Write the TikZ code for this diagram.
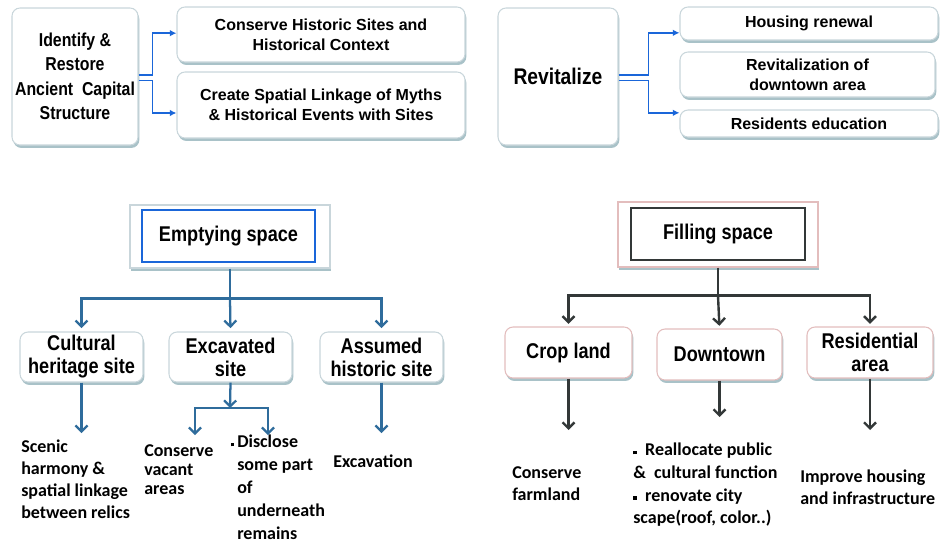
\documentclass[tikz,border=0pt]{standalone}
\usepackage{fontspec}
\setmainfont{Carlito}
\newfontfamily\krfont[FakeStretch=0.85]{Liberation Sans}
\newfontfamily\boxfont{Liberation Sans}
\usetikzlibrary{shadows,arrows.meta}
\definecolor{topblue}{HTML}{1A66D9}
\definecolor{steel}{HTML}{2F6C9C}
\definecolor{darkline}{HTML}{333838}
\definecolor{rimgray}{HTML}{C9D6DB}
\definecolor{rimpink}{HTML}{E3BDBD}
\definecolor{shadowc}{HTML}{A9C2C8}
\newcommand{\sqbul}{\raisebox{1.2pt}{\rule{2.8pt}{2.8pt}}}

\begin{document}
\begin{tikzpicture}[x=0.75pt,y=-0.75pt,
  card/.style={draw=rimgray,fill=white,rounded corners=6pt,line width=0.8pt,
    drop shadow={shadow xshift=1pt,shadow yshift=-2.2pt,fill=shadowc,opacity=1},
    align=center,inner sep=0pt},
  bigtxt/.style={font=\krfont\bfseries\fontsize{14}{18.4}\selectfont},
  toptxt/.style={font=\boxfont\bfseries\fontsize{12}{15}\selectfont},
  kidtxt/.style={font=\krfont\bfseries\fontsize{16}{17.25}\selectfont},
  leaf/.style={font=\bfseries\fontsize{13.5}{16.5}\selectfont,align=left,inner sep=0pt,anchor=north west},
  toparr/.style={draw=topblue,line width=1.2pt,-{Latex[length=5pt,width=5pt]}},
  blline/.style={draw=steel,line width=1.7pt},
  blarr/.style={blline,-{Straight Barb[length=4.5pt,width=9pt]}},
  dkline/.style={draw=darkline,line width=1.8pt},
  dkarr/.style={dkline,-{Straight Barb[length=4.5pt,width=9pt]}}]
  \useasboundingbox (0,0) rectangle (948,553);

  \node[card,minimum width=94.5pt,minimum height=102.75pt,bigtxt] (ident) at (75,76.5)
    {Identify \&\\Restore\\Ancient\ \ Capital\\Structure};
  \node[card,minimum width=216pt,minimum height=41.25pt,toptxt] (cons) at (321,34.5)
    {Conserve Historic Sites and\\Historical Context};
  \node[card,minimum width=216pt,minimum height=49.5pt,toptxt] (link) at (321,105)
    {Create Spatial Linkage of Myths\\\& Historical Events with Sites};
  \draw[toparr] ([yshift=1pt]ident.east) -- ++(14,0) |- ([yshift=1pt]cons.west);
  \draw[toparr] ([yshift=-3pt]ident.east) -- ++(14,0) |- ([yshift=-6pt]link.west);

  \node[card,minimum width=90pt,minimum height=102.75pt,
    font=\krfont\bfseries\fontsize{17}{20}\selectfont] (revit) at (558,76.5) {Revitalize};
  \node[card,minimum width=193.5pt,minimum height=24.75pt,toptxt] (house) at (809,23.5)
    {Housing renewal};
  \node[card,minimum width=191.25pt,minimum height=33.75pt,toptxt] (downa) at (807.5,74.5)
    {Revitalization of\\downtown area};
  \node[card,minimum width=193.5pt,minimum height=20.25pt,toptxt] (educ) at (809,123.5)
    {Residents education};
  \draw[toparr] ([yshift=1pt]revit.east) -- ++(30,0) |- ([yshift=-7pt]house.west);
  \draw[toparr] ([yshift=-3pt]revit.east) -- ++(30,0) |- ([yshift=8pt]educ.west);

  \node[card,rounded corners=0pt,minimum width=150pt,minimum height=47.25pt] (emptyo) at (230,236.5) {};
  \node[draw=topblue,line width=1.6pt,fill=white,minimum width=129.75pt,minimum height=39pt,kidtxt]
    (empty) at (228.5,236) {Emptying space};
  \node[card,minimum width=92.25pt,minimum height=37.5pt,kidtxt] (cult) at (81.5,357)
    {Cultural\\heritage site};
  \node[card,minimum width=92.25pt,minimum height=37.5pt,kidtxt] (exc) at (230.5,357)
    {Excavated\\site};
  \node[card,minimum width=92.25pt,minimum height=37.5pt,kidtxt] (assum) at (381.5,357)
    {Assumed\\historic site};
  \draw[blline] (emptyo.south) -- ++(0,30) coordinate (ej);
  \draw[blarr,shorten >=2.5pt] (ej) -| (cult.north);
  \draw[blarr,shorten >=2.5pt] (ej) -- (exc.north);
  \draw[blarr,shorten >=2.5pt] (ej) -| (assum.north);

  \node[leaf] (scen) at (21,440) {Scenic\\harmony \&\\spatial linkage\\between relics};
  \node[leaf,font=\bfseries\fontsize{13.5}{14.25}\selectfont] (vac) at (144,444)
    {Conserve\\vacant\\areas};
  \node[leaf,font=\bfseries\fontsize{13.5}{17.25}\selectfont] (disc) at (237,435)
    {\llap{\sqbul\,}Disclose\\some part\\of\\underneath\\remains};
  \node[leaf] (exca) at (333,455) {Excavation};
  \coordinate (cultin) at (76,433);
  \coordinate (xj) at (230,408);
  \coordinate (vacin) at (195,435);
  \coordinate (discin) at (268,435);
  \coordinate (asin) at (382,433);
  \draw[blarr] (cult.south) -- (cult.south |- cultin);
  \draw[blarr] (exc.south) -- (xj);
  \draw[blarr] (xj) -| (vacin);
  \draw[blarr] (xj) -| (discin);
  \draw[blarr] (assum.south) -- (assum.south |- asin);

  \node[card,rounded corners=0pt,draw=rimpink,minimum width=150pt,minimum height=48.75pt]
    (fillo) at (718,234.5) {};
  \node[draw=darkline,line width=2pt,fill=white,minimum width=130.5pt,minimum height=39pt,kidtxt]
    (filling) at (718,234) {Filling space};
  \node[card,draw=rimpink,minimum width=95.25pt,minimum height=38.25pt,kidtxt] (crop) at (568.5,352.5)
    {Crop land};
  \node[card,draw=rimpink,minimum width=93.75pt,minimum height=38.25pt,kidtxt] (dtown) at (719.5,354.5)
    {Downtown};
  \node[card,draw=rimpink,minimum width=94.5pt,minimum height=38.25pt,kidtxt] (resi) at (870,352.5)
    {Residential\\area};
  \draw[dkline] (fillo.south) -- ++(0,28) coordinate (fj);
  \draw[dkarr,shorten >=2pt] (fj) -| (crop.north);
  \draw[dkarr,shorten >=2pt] (fj) -- (dtown.north);
  \draw[dkarr,shorten >=2pt] (fj) -| (resi.north);

  \node[leaf] (farm) at (512,466) {Conserve\\farmland};
  \node[leaf,font=\bfseries\fontsize{13.5}{17}\selectfont] (realloc) at (633,443)
    {\sqbul\ \ Reallocate public\\\&\ \ cultural function\\\sqbul\ \ renovate city\\scape(roof, color..)};
  \node[leaf] (impr) at (800,470) {Improve housing\\and infrastructure};
  \coordinate (cropin) at (563,430);
  \coordinate (dtin) at (719,417);
  \coordinate (resin) at (864,430);
  \draw[dkarr] (crop.south) -- (crop.south |- cropin);
  \draw[dkarr] (dtown.south) -- (dtown.south |- dtin);
  \draw[dkarr] (resi.south) -- (resi.south |- resin);
\end{tikzpicture}
\end{document}
